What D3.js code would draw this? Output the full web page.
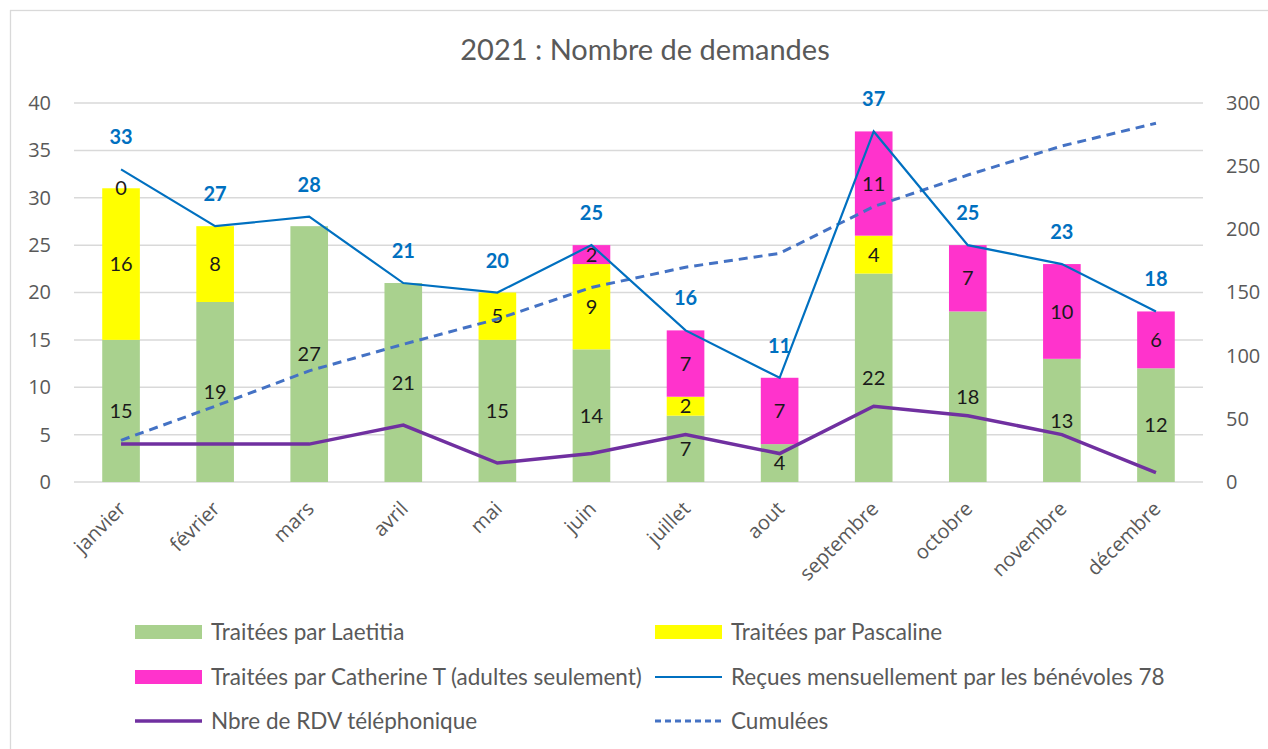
<!DOCTYPE html>
<html>
<head>
<meta charset="utf-8">
<script src="https://cdn.jsdelivr.net/npm/d3@7"></script>
<style>
  body { margin: 0; background: #fff; }
  text { font-family: Lato, "Open Sans", sans-serif; }
</style>
</head>
<body>
<div class="chart"></div>
<script>
// 2021 : Nombre de demandes

var months = ["janvier", "février", "mars", "avril", "mai", "juin", "juillet", "aout", "septembre", "octobre", "novembre", "décembre"];
var laetitia = [15, 19, 27, 21, 15, 14, 7, 4, 22, 18, 13, 12];
var pascaline = [16, 8, null, null, 5, 9, 2, null, 4, null, null, null];
var catherine = [0, null, null, null, null, 2, 7, 7, 11, 7, 10, 6];
var recues = [33, 27, 28, 21, 20, 25, 16, 11, 37, 25, 23, 18];
var rdv = [4, 4, 4, 6, 2, 3, 5, 3, 8, 7, 5, 1];
var cumulees = [33, 60, 88, 109, 129, 154, 170, 181, 218, 243, 266, 284];
var leftTicks = [0, 5, 10, 15, 20, 25, 30, 35, 40];
var rightTicks = [0, 50, 100, 150, 200, 250, 300];

var svgWidth = 1268;
var svgHeight = 749;

var plot = { left: 74, right: 1203, top: 103, bottom: 482 };

var svg = d3.select(".chart")
  .append("svg")
  .attr("width", svgWidth)
  .attr("height", svgHeight);

// chart frame
svg.append("rect")
  .attr("x", 10.5).attr("y", 10.5)
  .attr("width", 1300).attr("height", 800)
  .attr("fill", "#fff")
  .attr("stroke", "#d9d9d9")
  .attr("stroke-width", 1.3);

svg.append("text")
  .attr("x", 645)
  .attr("y", 60)
  .attr("text-anchor", "middle")
  .attr("fill", "#595959")
  .style("font-size", "29px")
  .text("2021 : Nombre de demandes");

// scales
var x = d3.scaleBand()
  .domain(months)
  .range([plot.left, plot.right]);

var yLeft = d3.scaleLinear()
  .domain([0, 40])
  .range([plot.bottom, plot.top]);

var yRight = d3.scaleLinear()
  .domain([0, 300])
  .range([plot.bottom, plot.top]);

var cx = function(i) { return x(months[i]) + x.bandwidth() / 2; };

// gridlines
svg.append("g")
  .selectAll("line")
  .data(leftTicks)
  .enter()
  .append("line")
  .attr("x1", plot.left).attr("x2", plot.right)
  .attr("y1", d => yLeft(d)).attr("y2", d => yLeft(d))
  .attr("stroke", "#d9d9d9")
  .attr("stroke-width", 1.5);

// axes
var leftAxis = d3.axisLeft(yLeft).tickValues(leftTicks).tickSize(0).tickPadding(23);
var rightAxis = d3.axisRight(yRight).tickValues(rightTicks).tickSize(0).tickPadding(23);

var gl = svg.append("g")
  .attr("transform", `translate(${plot.left}, 0)`)
  .call(leftAxis);
var gr = svg.append("g")
  .attr("transform", `translate(${plot.right}, 0)`)
  .call(rightAxis);
[gl, gr].forEach(function(g) {
  g.select(".domain").remove();
  g.selectAll("text")
    .attr("fill", "#595959")
    .style("font-family", "'Open Sans', sans-serif")
    .style("font-size", "20px");
});

var bottomAxis = d3.axisBottom(x).tickSize(0).tickPadding(0);
var gb = svg.append("g")
  .attr("transform", `translate(0, ${plot.bottom})`)
  .call(bottomAxis);
gb.select(".domain").remove();
gb.selectAll("text")
  .attr("fill", "#595959")
  .style("font-family", "'Open Sans', sans-serif")
  .style("font-size", "20px")
  .attr("text-anchor", "end")
  .attr("dy", null)
  .attr("y", 0)
  .attr("transform", "translate(6, 28) rotate(-45)");

// stacked bars
var rows = months.map(function(m, i) {
  return { month: m, laetitia: laetitia[i] || 0, pascaline: pascaline[i] || 0, catherine: catherine[i] || 0 };
});
var keys = ["laetitia", "pascaline", "catherine"];
var raw = { laetitia: laetitia, pascaline: pascaline, catherine: catherine };
var colors = { laetitia: "#a9d18e", pascaline: "#ffff00", catherine: "#ff33cc" };
var stacked = d3.stack().keys(keys)(rows);
var barWidth = x.bandwidth() * 0.4;

stacked.forEach(function(layer) {
  var g = svg.append("g");
  g.selectAll("rect")
    .data(layer)
    .enter()
    .append("rect")
    .attr("x", d => x(d.data.month) + (x.bandwidth() - barWidth) / 2)
    .attr("y", d => yLeft(d[1]))
    .attr("width", barWidth)
    .attr("height", d => yLeft(d[0]) - yLeft(d[1]))
    .attr("fill", colors[layer.key]);
});

// bar labels
stacked.forEach(function(layer) {
  svg.append("g")
    .selectAll("text")
    .data(layer.filter((d, i) => raw[layer.key][i] !== null))
    .enter()
    .append("text")
    .attr("x", d => x(d.data.month) + x.bandwidth() / 2)
    .attr("y", d => yLeft((d[0] + d[1]) / 2))
    .attr("dy", "0.36em")
    .attr("text-anchor", "middle")
    .attr("fill", "#1a1a1a")
    .style("font-size", "20px")
    .text(d => d[1] - d[0]);
});

// lines
var lineLeft = d3.line().x((d, i) => cx(i)).y(d => yLeft(d));
var lineRight = d3.line().x((d, i) => cx(i)).y(d => yRight(d));

svg.append("path")
  .datum(cumulees)
  .attr("d", lineRight)
  .attr("fill", "none")
  .attr("stroke", "#4472c4")
  .attr("stroke-width", 3)
  .attr("stroke-dasharray", "9,6");

svg.append("path")
  .datum(recues)
  .attr("d", lineLeft)
  .attr("fill", "none")
  .attr("stroke", "#0070c0")
  .attr("stroke-width", 2.2);

svg.append("path")
  .datum(rdv)
  .attr("d", lineLeft)
  .attr("fill", "none")
  .attr("stroke", "#7030a0")
  .attr("stroke-width", 3.5);

// labels of "reçues"
svg.append("g")
  .selectAll("text")
  .data(recues)
  .enter()
  .append("text")
  .attr("x", (d, i) => cx(i))
  .attr("y", d => yLeft(d) - 25)
  .attr("text-anchor", "middle")
  .attr("fill", "#0070c0")
  .style("font-size", "20px")
  .style("font-weight", "bold")
  .text(d => d);

// legend
var legend = [
  { name: "Traitées par Laetitia", type: "rect", color: "#a9d18e", x: 135, y: 632 },
  { name: "Traitées par Pascaline", type: "rect", color: "#ffff00", x: 655, y: 632 },
  { name: "Traitées par Catherine T (adultes seulement)", type: "rect", color: "#ff33cc", x: 135, y: 677 },
  { name: "Reçues mensuellement par les bénévoles 78", type: "line", color: "#0070c0", w: 2.2, x: 655, y: 677 },
  { name: "Nbre de RDV téléphonique", type: "line", color: "#7030a0", w: 3.5, x: 135, y: 721 },
  { name: "Cumulées", type: "dash", color: "#4472c4", w: 3, x: 655, y: 721 }
];

var lg = svg.append("g")
  .selectAll("g")
  .data(legend)
  .enter()
  .append("g")
  .attr("transform", d => `translate(${d.x}, ${d.y})`);

lg.filter(d => d.type === "rect")
  .append("rect")
  .attr("x", 0).attr("y", -7)
  .attr("width", 67).attr("height", 14)
  .attr("fill", d => d.color);

lg.filter(d => d.type !== "rect")
  .append("line")
  .attr("x1", 0).attr("x2", 67)
  .attr("y1", 0).attr("y2", 0)
  .attr("stroke", d => d.color)
  .attr("stroke-width", d => d.w)
  .attr("stroke-dasharray", d => d.type === "dash" ? "6,4" : null);

lg.append("text")
  .attr("x", 76)
  .attr("y", 0)
  .attr("dy", "0.36em")
  .attr("fill", "#595959")
  .style("font-size", "22.5px")
  .text(d => d.name);
</script>
</body>
</html>
